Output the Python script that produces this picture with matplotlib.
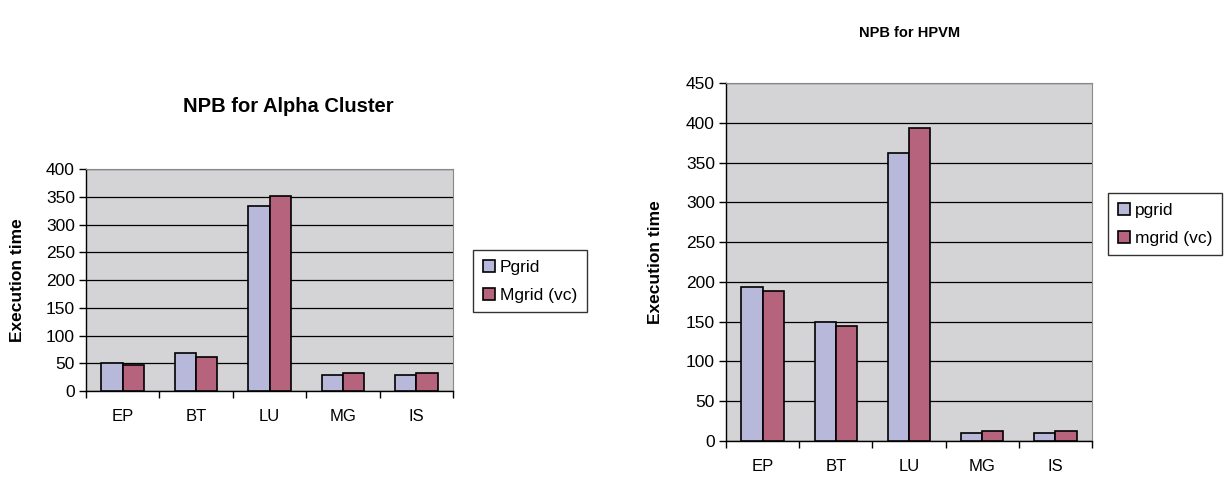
import numpy as np
import matplotlib.pyplot as plt

plt.rcParams['font.family'] = ['Liberation Sans', 'DejaVu Sans']

categories = ['EP', 'BT', 'LU', 'MG', 'IS']

alpha_pgrid = [50, 68, 334, 29, 29]
alpha_mgrid = [47, 62, 352, 33, 33]

hpvm_pgrid = [194, 149, 362, 10, 10]
hpvm_mgrid = [188, 144, 394, 12, 12]

c_p = '#B8B8DA'
c_m = '#B6647E'
bg = '#D4D4D6'

W, H = 1225, 479
fig = plt.figure(figsize=(W / 100, H / 100), dpi=100)


def draw(rect, p, m, ymax, title, title_xy, title_size, ylab_x, leg_labels, leg_rect):
    ax = fig.add_axes([rect[0] / W, 1 - rect[3] / H, (rect[2] - rect[0]) / W, (rect[3] - rect[1]) / H])
    x = np.arange(len(categories))
    w = 0.29
    ax.bar(x - w / 2, p, w, color=c_p, edgecolor='black', linewidth=1.2, zorder=3, label=leg_labels[0])
    ax.bar(x + w / 2, m, w, color=c_m, edgecolor='black', linewidth=1.2, zorder=3, label=leg_labels[1])
    ax.set_facecolor(bg)
    ax.set_xlim(-0.5, len(categories) - 0.5)
    ax.set_ylim(0, ymax)
    ax.set_yticks(np.arange(0, ymax + 1, 50))
    ax.yaxis.grid(True, color='black', linewidth=0.9, zorder=1)
    ax.set_xticks(x)
    ax.set_xticklabels(categories, fontsize=12)
    ax.set_xticks(np.arange(-0.5, len(categories)), minor=True)
    ax.tick_params(axis='x', which='major', length=0, pad=13)
    ax.tick_params(axis='x', which='minor', length=5, width=1, direction='out')
    ax.tick_params(axis='y', labelsize=12.5, length=5, width=1, direction='out', pad=3)
    for s in ['top', 'right']:
        ax.spines[s].set_color('#888888')
    ax.spines['left'].set_linewidth(1)
    ax.spines['bottom'].set_linewidth(1)
    ax.set_ylabel('Execution time', fontsize=12.5, fontweight='bold', va='center')
    ax.yaxis.set_label_coords((ylab_x - rect[0]) / (rect[2] - rect[0]), 0.5)
    fig.text(title_xy[0] / W, 1 - title_xy[1] / H, title, fontsize=title_size,
             fontweight='bold', ha='center', va='center')
    h, l = ax.get_legend_handles_labels()
    fig.legend(h, l, loc='upper left',
               bbox_to_anchor=(leg_rect[0] / W, 1 - leg_rect[1] / H),
               frameon=True, fancybox=False, edgecolor='black', fontsize=12.5,
               handlelength=0.7, handleheight=0.7, handletextpad=0.3, borderpad=0.55,
               labelspacing=0.75, borderaxespad=0)
    return ax


draw((86, 169, 453, 391), alpha_pgrid, alpha_mgrid, 400, 'NPB for Alpha Cluster', (288, 107), 14.5, 18,
     ['Pgrid', 'Mgrid (vc)'], (473, 250))
draw((726, 83, 1092, 441), hpvm_pgrid, hpvm_mgrid, 450, 'NPB for HPVM', (910, 33), 10.5, 655,
     ['pgrid', 'mgrid (vc)'], (1108, 193))

fig.savefig('out.png', dpi=100)
